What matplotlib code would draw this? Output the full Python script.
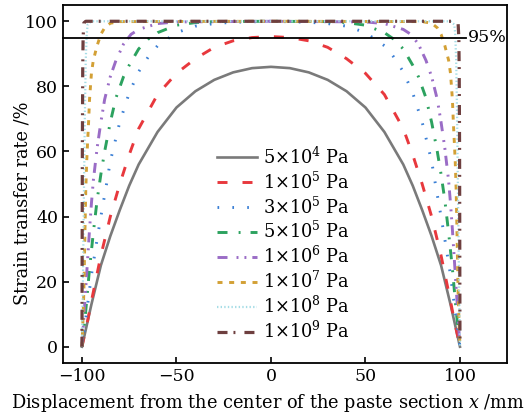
import matplotlib
matplotlib.use("Agg")
import matplotlib.pyplot as plt

plt.rcParams['font.family'] = ['DejaVu Serif']
plt.rcParams['mathtext.fontset'] = 'dejavuserif'
plt.rcParams['lines.scale_dashes'] = False

labels = [r'5$\times$10$^{4}$ Pa', r'1$\times$10$^{5}$ Pa', r'3$\times$10$^{5}$ Pa',
          r'5$\times$10$^{5}$ Pa', r'1$\times$10$^{6}$ Pa', r'1$\times$10$^{7}$ Pa',
          r'1$\times$10$^{8}$ Pa', r'1$\times$10$^{9}$ Pa']

x_g = [-100, -95, -90, -85, -80, -75, -70, -60, -50, -40, -30, -20, -10, 0,
       10, 20, 30, 40, 50, 60, 70, 75, 80, 85, 90, 95, 100]
y_g = [0, 13, 25, 34, 42, 49.5, 56, 66, 73.5, 78.5, 82, 84.3, 85.6, 86,
       85.6, 84.3, 82, 78.5, 73.5, 66, 56, 49.5, 42, 34, 25, 13, 0]

x_r = [-100, -97, -95, -90, -85, -80, -75, -70, -60, -50, -40, -30, -20, -10, 0,
       10, 20, 30, 40, 50, 60, 70, 75, 80, 85, 90, 95, 97, 100]
y_r = [0, 8, 14, 28, 40, 50, 59, 67, 77.5, 84, 88.5, 92, 94, 95, 95.3,
       95, 94, 92, 88.5, 84, 77.5, 67, 59, 50, 40, 28, 14, 8, 0]

x_b = [-100, -97, -95, -92, -90, -87, -85, -80, -75, -70, -65, -60, -50, -40, -30, -20, 0,
       20, 30, 40, 50, 60, 65, 70, 75, 80, 85, 87, 90, 92, 95, 97, 100]
y_b = [0, 13, 22, 33, 40, 50, 57, 69, 78, 84.5, 89, 92.5, 96.5, 98.5, 99.3, 99.7, 100,
       99.7, 99.3, 98.5, 96.5, 92.5, 89, 84.5, 78, 69, 57, 50, 40, 33, 22, 13, 0]

x_gr = [-100, -98, -96, -94, -92, -90, -88, -85, -82, -78, -75, -70, -65, -60, -50, -40, -30, 0,
        30, 40, 50, 60, 65, 70, 75, 78, 82, 85, 88, 90, 92, 94, 96, 98, 100]
y_gr = [0, 11, 24, 35, 45, 53, 60, 69, 76.5, 83, 86.5, 91.5, 94.5, 96.5, 98.8, 99.6, 99.9, 100,
        99.9, 99.6, 98.8, 96.5, 94.5, 91.5, 86.5, 83, 76.5, 69, 60, 53, 45, 35, 24, 11, 0]

x_p = [-100, -98, -97, -96, -95, -94, -92, -90, -88, -85, -82, -78, -74, -70, -60, -50, 0,
       50, 60, 70, 74, 78, 82, 85, 88, 90, 92, 94, 95, 96, 97, 98, 100]
y_p = [0, 18, 27, 36, 44, 51, 61, 69, 76, 83, 88, 93, 96, 97.5, 99.3, 99.8, 100,
       99.8, 99.3, 97.5, 96, 93, 88, 83, 76, 69, 61, 51, 44, 36, 27, 18, 0]

x_o = [-100, -99.5, -99, -98.5, -98, -97.5, -97, -96.5, -96, -95, -94, -92, -90, -88, -85, -80, 0,
       80, 85, 88, 90, 92, 94, 95, 96, 96.5, 97, 97.5, 98, 98.5, 99, 99.5, 100]
y_o = [0, 8, 17, 33, 48, 57, 63, 69, 76, 84, 88, 92.5, 96, 98, 99.4, 99.9, 100,
       99.9, 99.4, 98, 96, 92.5, 88, 84, 76, 69, 63, 57, 48, 33, 17, 8, 0]

x_c = [-100, -99.5, -99, -98.5, -98, -97.5, -97, -95, 0,
       95, 97, 97.5, 98, 98.5, 99, 99.5, 100]
y_c = [0, 20, 45, 70, 88, 96, 99, 100, 100,
       100, 99, 96, 88, 70, 45, 20, 0]

x_br = [-100, -99.8, -99.6, -99.4, -99, -98, 0,
        98, 99, 99.4, 99.6, 99.8, 100]
y_br = [0, 60, 85, 95, 99.5, 100, 100,
        100, 99.5, 95, 85, 60, 0]

series = [(x_g, y_g), (x_r, y_r), (x_b, y_b), (x_gr, y_gr),
          (x_p, y_p), (x_o, y_o), (x_c, y_c), (x_br, y_br)]
colors = ['#7a7a7a', '#e8383d', '#3a7fd5', '#2ca25f', '#9a6cc6', '#d3a035', '#a6dde6', '#6e3f3f']
dashes = [None, (7.2, 10.8), (1.2, 9.5), (7.2, 8, 1.4, 7.2), (7.2, 6.5, 1.4, 4.3, 1.4, 4.3),
          (3.6, 4.8), (1.0, 1.6), (7.2, 4.3, 1.4, 6.5)]
widths = [1.9, 2.1, 2.1, 2.1, 2.1, 2.1, 1.6, 2.3]

fig = plt.figure(figsize=(5.3, 4.17), dpi=100)
ax = fig.add_axes([0.119, 0.1295, 0.838, 0.8585])

for (xs, ys), c, d, w, lab in zip(series, colors, dashes, widths, labels):
    ln, = ax.plot(xs, ys, color=c, lw=w, label=lab)
    if d is not None:
        ln.set_dashes(d)

ax.plot([-110, 103], [95, 95], color='black', lw=1.3, clip_on=False)
ax.text(104, 95, '95%', fontsize=12.5, va='center', ha='left')

ax.set_xlim(-110, 125)
ax.set_ylim(-5, 105)
ax.set_xticks([-100, -50, 0, 50, 100])
ax.set_xticklabels(['\u2212100', '\u221250', '0', '50', '100'])
ax.set_yticks([0, 20, 40, 60, 80, 100])
ax.tick_params(direction='in', length=4, width=1.2, labelsize=12.5, top=False, right=False)
for s in ax.spines.values():
    s.set_linewidth(1.3)

ax.set_xlabel('Displacement from the center of the paste section $x$ /mm', fontsize=12.8)
ax.set_ylabel('Strain transfer rate /%', fontsize=12.8)
ax.xaxis.set_label_coords(0.462, -0.08)
ax.yaxis.set_label_coords(-0.07, 0.447)

leg = ax.legend(loc='center left', bbox_to_anchor=(0.347, 0.332), frameon=False,
                fontsize=12.8, handlelength=2.25, handletextpad=0.3, labelspacing=0.21,
                borderpad=0, borderaxespad=0)

fig.savefig('out.png', dpi=100)
